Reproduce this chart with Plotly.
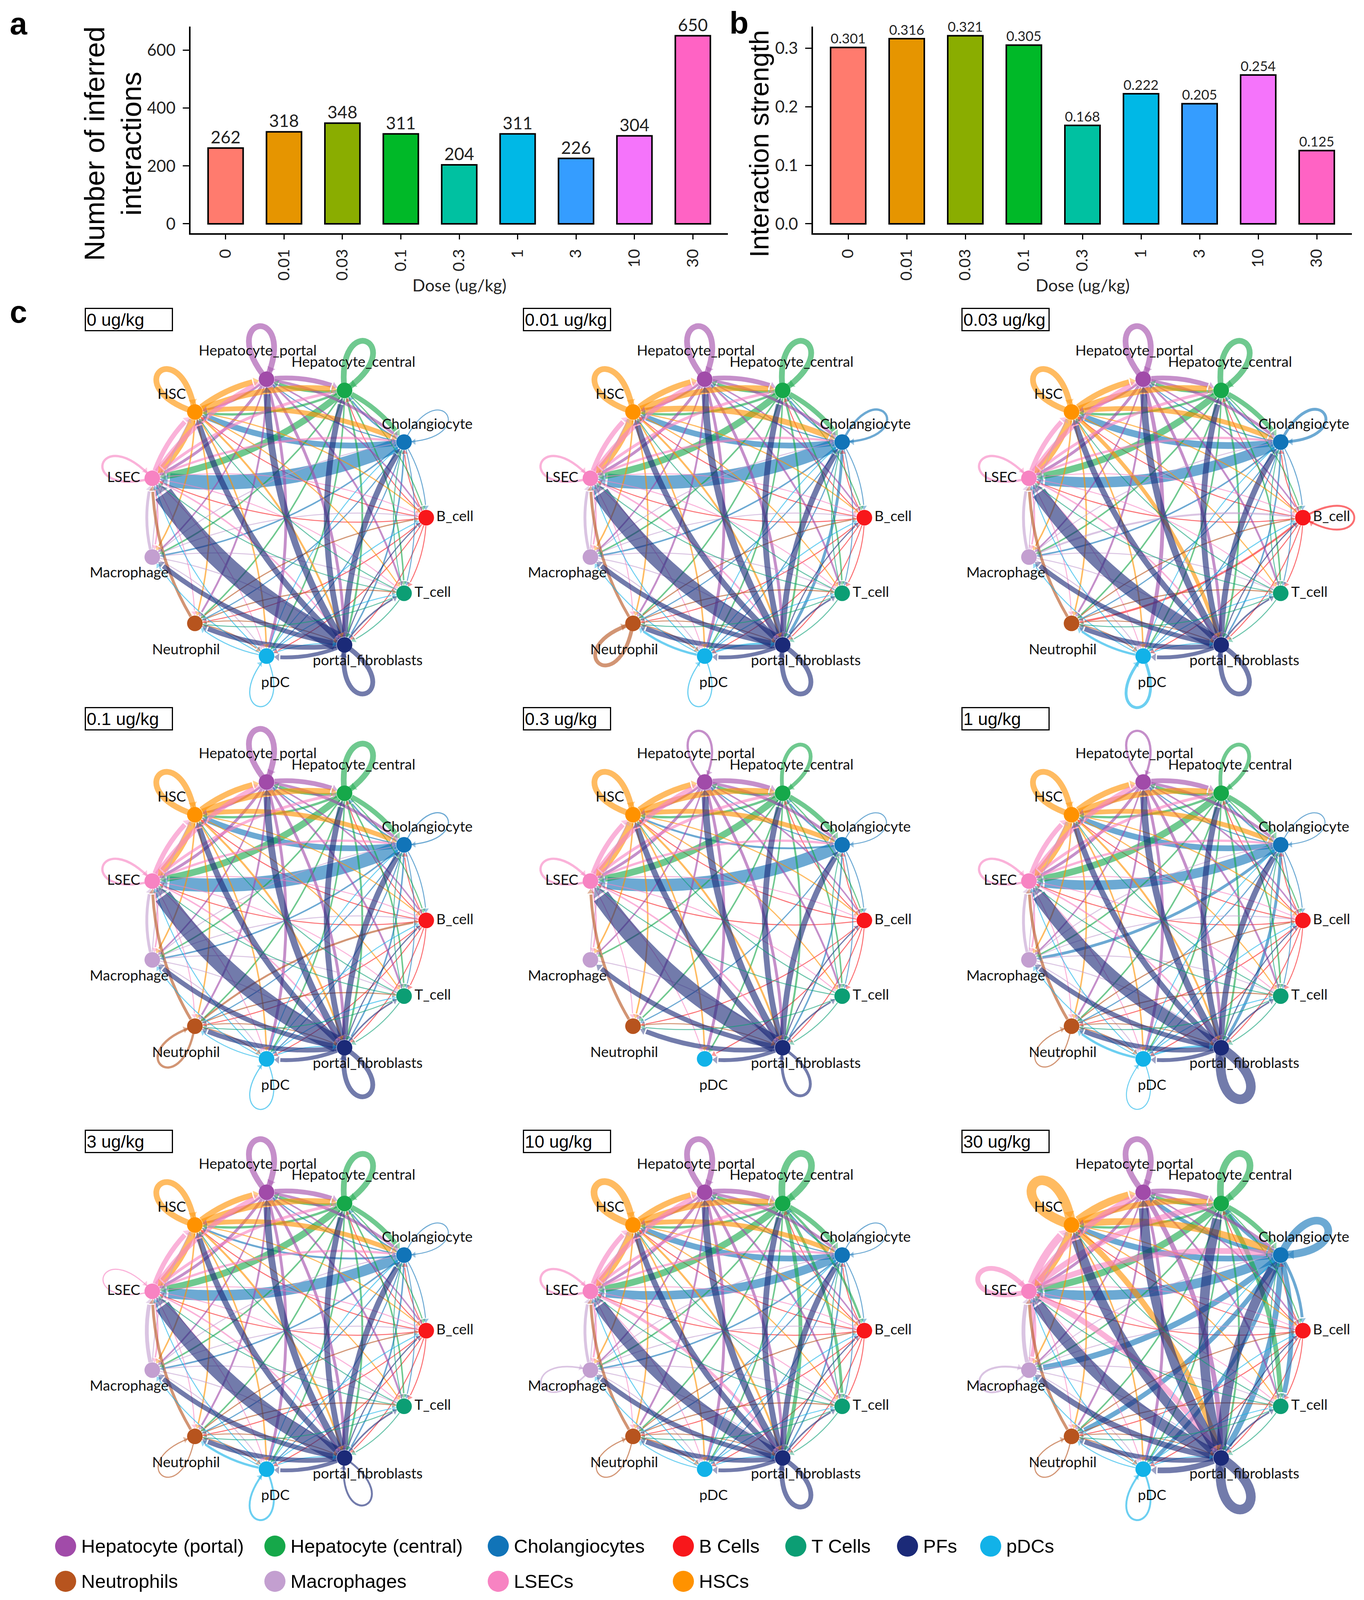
import math
import plotly.graph_objects as go

W, H = 3493, 4189            # reference size
VIS_H = 4100                 # height that is actually visible in the browser viewport
K = VIS_H / H                # vertical squeeze so the legend stays on screen
OFF = 8                      # page body margin
FW, FH = W - 2 * OFF, VIS_H - 2 * OFF

# ---- panel a / b data ----
doses = ["0", "0.01", "0.03", "0.1", "0.3", "1", "3", "10", "30"]
n_interactions = [262, 318, 348, 311, 204, 311, 226, 304, 650]
strength = [0.301, 0.316, 0.321, 0.305, 0.168, 0.222, 0.205, 0.254, 0.125]
bar_colors = ["#FF7B6E", "#E69500", "#8AAD00", "#00B928", "#00C1A1",
              "#00B8E6", "#359DFF", "#F574FB", "#FF63C4"]

# ---- panel c data ----
cell_types = ["B_cell", "Cholangiocyte", "Hepatocyte_central", "Hepatocyte_portal", "HSC",
              "LSEC", "Macrophage", "Neutrophil", "pDC", "portal_fibroblasts", "T_cell"]
cell_colors = ["#F8171B", "#1174B8", "#16A84A", "#A14BA9", "#FF9200",
               "#F783C2", "#C39FD0", "#B7541E", "#12B2E8", "#1B2A78", "#0C9E74"]

# interaction strength at 0 ug/kg (rows = sender, cols = receiver, same order as cell_types)
base_weights = [
    [0.0, 0.4, 0.4, 0.0, 0.4, 0.5, 0.0, 0.4, 0.4, 0.5, 0.4],
    [0.5, 0.5, 0.8, 0.6, 3.0, 7.5, 0.8, 0.6, 0.6, 0.8, 0.5],
    [0.6, 2.5, 3.0, 1.5, 1.2, 3.5, 0.8, 0.8, 0.8, 1.0, 0.8],
    [0.8, 1.5, 2.5, 3.0, 1.2, 1.5, 0.8, 1.0, 1.5, 1.5, 1.0],
    [0.6, 2.5, 3.0, 3.0, 3.0, 3.5, 0.8, 0.8, 0.8, 1.0, 0.6],
    [0.5, 1.2, 1.5, 2.5, 2.5, 1.2, 0.8, 0.5, 0.5, 0.8, 0.5],
    [0.5, 0.5, 0.0, 0.0, 0.5, 1.5, 0.0, 0.0, 0.5, 0.5, 0.5],
    [0.6, 0.0, 0.0, 0.0, 0.0, 1.5, 0.0, 0.0, 0.6, 0.5, 0.6],
    [0.5, 0.5, 0.0, 0.0, 0.0, 0.5, 0.5, 0.5, 0.6, 0.5, 0.5],
    [0.6, 3.0, 3.0, 3.5, 3.0, 10.0, 2.5, 2.5, 2.0, 2.5, 0.8],
    [0.0, 0.4, 0.0, 0.0, 0.4, 0.5, 0.0, 0.4, 0.0, 0.4, 0.0],
]

# edges that differ from 0 ug/kg: (sender, receiver, strength)
changes_001 = [("Neutrophil", "Neutrophil", 2.0), ("pDC", "Neutrophil", 1.2),
               ("Cholangiocyte", "Cholangiocyte", 1.2), ("HSC", "Cholangiocyte", 3.0),
               ("portal_fibroblasts", "LSEC", 8.5), ("Cholangiocyte", "LSEC", 7.0),
               ("Cholangiocyte", "portal_fibroblasts", 1.5), ("pDC", "portal_fibroblasts", 1.0)]
changes_003 = [("B_cell", "B_cell", 1.0), ("B_cell", "Neutrophil", 1.0),
               ("Cholangiocyte", "Cholangiocyte", 1.5), ("Cholangiocyte", "HSC", 3.5),
               ("HSC", "portal_fibroblasts", 2.0), ("pDC", "pDC", 1.5),
               ("portal_fibroblasts", "LSEC", 7.5), ("Cholangiocyte", "LSEC", 5.5),
               ("Hepatocyte_portal", "pDC", 2.0), ("pDC", "Neutrophil", 1.2),
               ("Macrophage", "B_cell", 1.0)]
changes_01 = [("Neutrophil", "Neutrophil", 1.2), ("portal_fibroblasts", "LSEC", 9.0),
              ("Cholangiocyte", "LSEC", 7.0), ("Cholangiocyte", "Cholangiocyte", 0.6),
              ("Neutrophil", "B_cell", 1.0)]
changes_03 = [("portal_fibroblasts", "LSEC", 9.0), ("Cholangiocyte", "LSEC", 6.5),
              ("pDC", "pDC", 0.0), ("Hepatocyte_portal", "Hepatocyte_portal", 1.2),
              ("Hepatocyte_central", "Hepatocyte_central", 2.0),
              ("portal_fibroblasts", "portal_fibroblasts", 1.5),
              ("Macrophage", "B_cell", 0.0), ("Macrophage", "Cholangiocyte", 0.0),
              ("Macrophage", "T_cell", 0.0), ("Macrophage", "pDC", 0.0),
              ("Macrophage", "LSEC", 0.0), ("Neutrophil", "B_cell", 0.0),
              ("Neutrophil", "T_cell", 0.0), ("Neutrophil", "pDC", 0.0),
              ("pDC", "B_cell", 0.0), ("pDC", "Cholangiocyte", 0.0), ("pDC", "LSEC", 0.0),
              ("pDC", "Macrophage", 0.0), ("pDC", "Neutrophil", 0.0), ("pDC", "T_cell", 0.0),
              ("pDC", "portal_fibroblasts", 0.0), ("Cholangiocyte", "HSC", 1.0),
              ("Cholangiocyte", "Macrophage", 0.0), ("Cholangiocyte", "pDC", 0.0)]
changes_1 = [("portal_fibroblasts", "portal_fibroblasts", 5.0), ("portal_fibroblasts", "LSEC", 7.0),
             ("Cholangiocyte", "LSEC", 5.0), ("Cholangiocyte", "Macrophage", 1.5),
             ("Cholangiocyte", "portal_fibroblasts", 1.5), ("Neutrophil", "Neutrophil", 0.6),
             ("pDC", "Neutrophil", 1.2), ("pDC", "portal_fibroblasts", 1.0),
             ("Hepatocyte_portal", "Hepatocyte_portal", 1.2),
             ("Hepatocyte_central", "Hepatocyte_central", 2.0), ("pDC", "pDC", 0.5)]
changes_3 = [("portal_fibroblasts", "LSEC", 8.0), ("Cholangiocyte", "LSEC", 5.5),
             ("Neutrophil", "Neutrophil", 0.6), ("pDC", "pDC", 1.0),
             ("portal_fibroblasts", "portal_fibroblasts", 1.0), ("Cholangiocyte", "HSC", 1.0),
             ("Macrophage", "LSEC", 2.0), ("pDC", "Neutrophil", 1.2), ("LSEC", "LSEC", 0.6)]
changes_10 = [("portal_fibroblasts", "LSEC", 6.5), ("Cholangiocyte", "LSEC", 4.5),
              ("Macrophage", "Macrophage", 0.8), ("LSEC", "Macrophage", 1.0),
              ("Hepatocyte_central", "Hepatocyte_central", 3.5), ("HSC", "HSC", 3.5),
              ("Hepatocyte_central", "portal_fibroblasts", 2.0),
              ("Hepatocyte_central", "T_cell", 1.5), ("Neutrophil", "Neutrophil", 0.6),
              ("pDC", "pDC", 0.0), ("Hepatocyte_central", "B_cell", 1.2),
              ("Neutrophil", "pDC", 0.8), ("LSEC", "portal_fibroblasts", 1.5)]
changes_30 = [("Cholangiocyte", "Cholangiocyte", 4.0), ("Cholangiocyte", "LSEC", 5.0),
              ("Cholangiocyte", "HSC", 3.0), ("Cholangiocyte", "Macrophage", 3.0),
              ("Cholangiocyte", "Neutrophil", 2.5), ("Cholangiocyte", "pDC", 2.0),
              ("Cholangiocyte", "portal_fibroblasts", 3.0), ("Cholangiocyte", "T_cell", 2.5),
              ("Cholangiocyte", "B_cell", 1.5), ("Cholangiocyte", "Hepatocyte_portal", 2.0),
              ("Cholangiocyte", "Hepatocyte_central", 2.0), ("LSEC", "LSEC", 2.5),
              ("LSEC", "HSC", 4.0), ("LSEC", "Hepatocyte_portal", 3.0),
              ("LSEC", "Hepatocyte_central", 3.0), ("LSEC", "Cholangiocyte", 3.0),
              ("LSEC", "portal_fibroblasts", 3.0), ("LSEC", "Macrophage", 2.0),
              ("HSC", "HSC", 5.0), ("HSC", "portal_fibroblasts", 3.0),
              ("HSC", "Hepatocyte_portal", 4.0), ("HSC", "Cholangiocyte", 3.5),
              ("portal_fibroblasts", "LSEC", 6.0), ("portal_fibroblasts", "HSC", 5.0),
              ("portal_fibroblasts", "Hepatocyte_portal", 5.0),
              ("portal_fibroblasts", "Hepatocyte_central", 5.0),
              ("portal_fibroblasts", "Cholangiocyte", 5.0),
              ("portal_fibroblasts", "portal_fibroblasts", 5.0),
              ("portal_fibroblasts", "Macrophage", 3.0), ("portal_fibroblasts", "pDC", 3.0),
              ("Hepatocyte_central", "Hepatocyte_central", 3.5),
              ("Hepatocyte_central", "T_cell", 2.5), ("Hepatocyte_portal", "Hepatocyte_portal", 3.0),
              ("Macrophage", "Macrophage", 1.0), ("Macrophage", "LSEC", 2.0),
              ("Neutrophil", "Neutrophil", 0.6), ("pDC", "pDC", 1.0),
              ("Hepatocyte_portal", "portal_fibroblasts", 2.5)]
dose_changes = [[], changes_001, changes_003, changes_01, changes_03,
                changes_1, changes_3, changes_10, changes_30]

legend_labels = ["Hepatocyte (portal)", "Hepatocyte (central)", "Cholangiocytes", "B Cells",
                 "T Cells", "PFs", "pDCs", "Neutrophils", "Macrophages", "LSECs", "HSCs"]
legend_cells = ["Hepatocyte_portal", "Hepatocyte_central", "Cholangiocyte", "B_cell", "T_cell",
                "portal_fibroblasts", "pDC", "Neutrophil", "Macrophage", "LSEC", "HSC"]

# ---- layout constants (reference pixels) ----
R_PX = 358.0          # circle radius
HALF_X = 505.0        # half width of each network subplot
HALF_Y = 540.0        # half height of each network subplot
col_cx = [733.5, 1855.5, 2978.5]
row_cy = [1354.0, 2407.5, 3480.5]
box_top = [805, 1849, 2955]
box_left = [217, 1339, 2462]


def fx(px):
    return (px - OFF) / FW


def fy(py):
    return 1 - (py * K - OFF) / FH


def hex_rgba(h, a):
    h = h.lstrip("#")
    return "rgba(%d,%d,%d,%.2f)" % (int(h[0:2], 16), int(h[2:4], 16), int(h[4:6], 16), a)


def qpt(p0, c, p2, t):
    return ((1 - t) ** 2 * p0[0] + 2 * (1 - t) * t * c[0] + t ** 2 * p2[0],
            (1 - t) ** 2 * p0[1] + 2 * (1 - t) * t * c[1] + t ** 2 * p2[1])


def blossom(p0, c, p2, a, b):
    w0 = (1 - a) * (1 - b)
    w1 = (1 - a) * b + a * (1 - b)
    w2 = a * b
    return (w0 * p0[0] + w1 * c[0] + w2 * p2[0], w0 * p0[1] + w1 * c[1] + w2 * p2[1])


fig = go.Figure()

# ---------------- bar charts ----------------
font_num = "Lato"
fig.add_trace(go.Bar(x=doses, y=n_interactions, marker=dict(color=bar_colors, line=dict(color="black", width=4)),
                     width=0.6, text=[str(v) for v in n_interactions], textposition="outside",
                     textfont=dict(family=font_num, size=44, color="#222"), cliponaxis=False,
                     xaxis="x", yaxis="y", hoverinfo="skip"))
fig.add_trace(go.Bar(x=doses, y=strength, marker=dict(color=bar_colors, line=dict(color="black", width=4)),
                     width=0.6, text=["%.3f" % v for v in strength], textposition="outside",
                     textfont=dict(family=font_num, size=44, color="#222"), cliponaxis=False,
                     xaxis="x2", yaxis="y2", hoverinfo="skip"))

ydom = [fy(610), fy(69)]
common_x = dict(type="category", range=[-0.6, 8.6], showline=True, linewidth=4, linecolor="black",
                ticks="outside", ticklen=12, tickwidth=3, tickcolor="black", tickangle=-90,
                tickfont=dict(family=font_num, size=41, color="#222"), showgrid=False,
                ticklabelstandoff=8, fixedrange=True)
common_y = dict(showline=True, linewidth=4, linecolor="black", ticks="outside", ticklen=16,
                tickwidth=3, tickcolor="black", tickfont=dict(family=font_num, size=42, color="#222"),
                showgrid=False, zeroline=False, ticklabelstandoff=10, fixedrange=True)
layout_axes = dict(
    xaxis=dict(domain=[fx(488), fx(1864)], anchor="y", **common_x),
    yaxis=dict(domain=ydom, anchor="x", range=[-32.5, 682.5], tickvals=[0, 200, 400, 600], **common_y),
    xaxis2=dict(domain=[fx(2082), fx(3462)], anchor="y2", **common_x),
    yaxis2=dict(domain=ydom, anchor="x2", range=[-0.01605, 0.33705], tickvals=[0, 0.1, 0.2, 0.3],
                tickformat=".1f", **common_y),
)

# ---------------- networks ----------------
n = len(cell_types)
node_xy = [(math.cos(2 * math.pi * k / n), math.sin(2 * math.pi * k / n)) for k in range(n)]
label_xy = [(node_xy[k][0] + 0.205 * math.cos(2 * math.pi * k / 10),
             node_xy[k][1] + 0.205 * math.sin(2 * math.pi * k / 10)) for k in range(n)]
NODE_R = 20 / R_PX

shapes = []
annotations = []

for p, dose in enumerate(doses):
    r, c = divmod(p, 3)
    ax_id = p + 3
    xa, ya = "x%d" % ax_id, "y%d" % ax_id
    cx, cy = col_cx[c], row_cy[r]
    y_lo, y_hi = fy(cy) - HALF_Y / FH, fy(cy) + HALF_Y / FH
    layout_axes["xaxis%d" % ax_id] = dict(domain=[fx(cx - HALF_X), fx(cx + HALF_X)],
                                         range=[-HALF_X / R_PX, HALF_X / R_PX],
                                         visible=False, anchor=ya, fixedrange=True)
    layout_axes["yaxis%d" % ax_id] = dict(domain=[y_lo, y_hi],
                                         range=[-HALF_Y / R_PX, HALF_Y / R_PX],
                                         visible=False, anchor=xa, fixedrange=True)

    wmat = [row[:] for row in base_weights]
    for s, t, w in dose_changes[p]:
        wmat[cell_types.index(s)][cell_types.index(t)] = w

    ax_x, ax_y, ax_ang, ax_col, ax_size = [], [], [], [], []
    for i in range(n):
        for j in range(n):
            w = wmat[i][j]
            if w <= 0:
                continue
            lw = max(2.5, w * 4.9)
            col = hex_rgba(cell_colors[i], 0.62)
            asz = 13 + 0.4 * lw
            P = node_xy[i]
            if i == j:
                h = 0.56 + 0.012 * w
                a = math.radians(31)
                ux, uy = P
                r1 = (ux * math.cos(a) - uy * math.sin(a), ux * math.sin(a) + uy * math.cos(a))
                r2 = (ux * math.cos(a) + uy * math.sin(a), -ux * math.sin(a) + uy * math.cos(a))
                c1 = (P[0] + h * r1[0], P[1] + h * r1[1])
                c2 = (P[0] + h * r2[0], P[1] + h * r2[1])
                path = "M %.4f,%.4f C %.4f,%.4f %.4f,%.4f %.4f,%.4f" % (P[0], P[1], c1[0], c1[1],
                                                                      c2[0], c2[1], P[0], P[1])
                shapes.append(dict(type="path", path=path, xref=xa, yref=ya, layer="below",
                                   line=dict(color=col, width=lw)))
                # arrowhead entering the node
                ang = math.atan2(-r2[0], -r2[1])
                ax_x.append(P[0] + (NODE_R + asz * 0.4 / R_PX) * r2[0])
                ax_y.append(P[1] + (NODE_R + asz * 0.4 / R_PX) * r2[1])
                ax_ang.append(math.degrees(ang))
                ax_col.append(col)
                ax_size.append(asz)
                continue
            Q = node_xy[j]
            dx, dy = Q[0] - P[0], Q[1] - P[1]
            L = math.hypot(dx, dy)
            C = ((P[0] + Q[0]) / 2 - 0.14 * dy, (P[1] + Q[1]) / 2 + 0.14 * dx)
            t0 = NODE_R / L
            t_tip = 1 - NODE_R / L
            alen = asz * 0.85 / R_PX
            t_end = t_tip - alen / L
            s0 = qpt(P, C, Q, t0)
            s1 = qpt(P, C, Q, t_end)
            cc = blossom(P, C, Q, t0, t_end)
            path = "M %.4f,%.4f Q %.4f,%.4f %.4f,%.4f" % (s0[0], s0[1], cc[0], cc[1], s1[0], s1[1])
            shapes.append(dict(type="path", path=path, xref=xa, yref=ya, layer="below",
                               line=dict(color=col, width=lw)))
            tm = t_tip - 0.5 * alen / L
            m = qpt(P, C, Q, tm)
            tx = 2 * (1 - tm) * (C[0] - P[0]) + 2 * tm * (Q[0] - C[0])
            ty = 2 * (1 - tm) * (C[1] - P[1]) + 2 * tm * (Q[1] - C[1])
            ax_x.append(m[0])
            ax_y.append(m[1])
            ax_ang.append(math.degrees(math.atan2(tx, ty)))
            ax_col.append(col)
            ax_size.append(asz)

    fig.add_trace(go.Scatter(x=ax_x, y=ax_y, mode="markers", xaxis=xa, yaxis=ya, hoverinfo="skip",
                             marker=dict(symbol="triangle-up", size=ax_size, angle=ax_ang, color=ax_col,
                                         line=dict(width=0))))
    fig.add_trace(go.Scatter(x=[q[0] for q in node_xy], y=[q[1] for q in node_xy], mode="markers",
                             xaxis=xa, yaxis=ya, hoverinfo="skip",
                             marker=dict(size=40, color=cell_colors, line=dict(width=0))))
    fig.add_trace(go.Scatter(x=[q[0] for q in label_xy], y=[q[1] for q in label_xy], mode="text",
                             text=cell_types, xaxis=xa, yaxis=ya, hoverinfo="skip",
                             textfont=dict(family="Lato", size=37, color="#111")))

    annotations.append(dict(xref="paper", yref="paper", x=fx(box_left[c]), y=fy(box_top[r]),
                            xanchor="left", yanchor="top", text=dose + " ug/kg", showarrow=False,
                            font=dict(family="Liberation Sans", size=45, color="black"),
                            bordercolor="black", borderwidth=3, borderpad=2, width=216, height=50,
                            align="left", valign="middle"))

# ---------------- legend ----------------
leg_x = [168, 704, 1276, 1750, 2038, 2324, 2537, 168, 704, 1276, 1750]
leg_y = [4044] * 7 + [4136] * 4
layout_axes["xaxis12"] = dict(domain=[0, 1], range=[OFF, OFF + FW], visible=False, anchor="y12", fixedrange=True)
layout_axes["yaxis12"] = dict(domain=[0, 1], range=[(OFF + FH) / K, OFF / K], visible=False, anchor="x12",
                              fixedrange=True)
fig.add_trace(go.Scatter(x=leg_x, y=leg_y, mode="markers", xaxis="x12", yaxis="y12", hoverinfo="skip",
                         marker=dict(size=54, color=[cell_colors[cell_types.index(cn)] for cn in legend_cells],
                                     line=dict(width=0))))
for lx, ly, lab in zip(leg_x, leg_y, legend_labels):
    annotations.append(dict(xref="x12", yref="y12", x=lx + 38, y=ly, xanchor="left", yanchor="middle",
                            text=lab, showarrow=False,
                            font=dict(family="Liberation Sans", size=49, color="black")))

# ---------------- titles and panel letters ----------------
annotations += [
    dict(xref="paper", yref="paper", x=fx(289), y=fy(376), text="Number of inferred<br>interactions",
         textangle=-90, showarrow=False, xanchor="center", yanchor="middle",
         font=dict(family="Liberation Sans", size=72, color="black")),
    dict(xref="paper", yref="paper", x=fx(1944), y=fy(376), text="Interaction strength",
         textangle=-90, showarrow=False, xanchor="center", yanchor="middle",
         font=dict(family="Liberation Sans", size=68, color="black")),
    dict(xref="paper", yref="paper", x=fx(1176), y=fy(745), text="Dose (ug/kg)", showarrow=False,
         xanchor="center", yanchor="middle", font=dict(family=font_num, size=43, color="#222")),
    dict(xref="paper", yref="paper", x=fx(2772), y=fy(745), text="Dose (ug/kg)", showarrow=False,
         xanchor="center", yanchor="middle", font=dict(family=font_num, size=43, color="#222")),
    dict(xref="paper", yref="paper", x=fx(47), y=fy(14), text="<b>a</b>", showarrow=False,
         xanchor="center", yanchor="top", font=dict(family="Liberation Sans", size=80, color="black")),
    dict(xref="paper", yref="paper", x=fx(1892), y=fy(12), text="<b>b</b>", showarrow=False,
         xanchor="center", yanchor="top", font=dict(family="Liberation Sans", size=80, color="black")),
    dict(xref="paper", yref="paper", x=fx(47), y=fy(816), text="<b>c</b>", showarrow=False,
         xanchor="center", yanchor="middle", font=dict(family="Liberation Sans", size=80, color="black")),
]

fig.update_layout(width=FW, height=FH, margin=dict(l=0, r=0, t=0, b=0), showlegend=False,
                  paper_bgcolor="white", plot_bgcolor="rgba(0,0,0,0)",
                  shapes=shapes, annotations=annotations, **layout_axes)

fig.write_html("out.html")
